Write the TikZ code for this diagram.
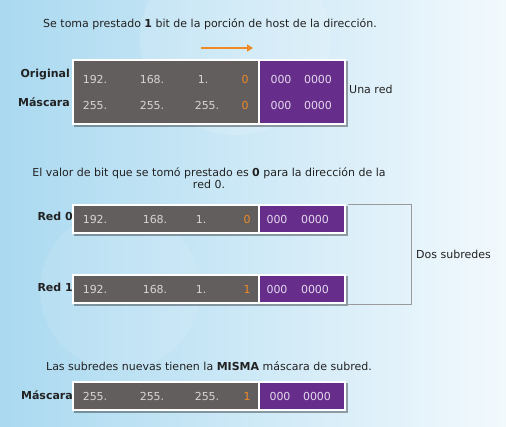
\documentclass[tikz,border=0pt]{standalone}
\usepackage{fontspec}
\setmainfont{DejaVu Sans}
\usetikzlibrary{shadows,arrows.meta}
\definecolor{boxgray}{HTML}{625E5E}
\definecolor{boxpurple}{HTML}{662D8A}
\definecolor{numgray}{HTML}{D6D4D4}
\definecolor{numpurple}{HTML}{E4DAEE}
\definecolor{bitorange}{HTML}{F08A24}
\definecolor{txt}{HTML}{222222}
\definecolor{bgleft}{HTML}{AAD9F0}
\definecolor{bgmid}{HTML}{D6EEF9}
\definecolor{bgright}{HTML}{F2F9FD}
\definecolor{bracketgray}{HTML}{9A9A9A}
\begin{document}
\begin{tikzpicture}[x=1pt,y=-1pt,
  outerbox/.style={fill=white, draw=none, inner sep=0pt, anchor=north west,
    drop shadow={shadow xshift=1.5pt, shadow yshift=-2pt, opacity=0.35, fill=black}},
  graybox/.style={fill=boxgray, draw=none, inner sep=0pt, anchor=north west},
  purplebox/.style={fill=boxpurple, draw=none, inner sep=0pt, anchor=north west},
  numg/.style={text=numgray, font=\fontsize{11}{13}\selectfont, inner sep=0pt},
  nump/.style={text=numpurple, font=\fontsize{11}{13}\selectfont, inner sep=0pt},
  bit/.style={text=bitorange, font=\fontsize{11}{13}\selectfont, inner sep=0pt},
  lbl/.style={text=txt, font=\fontsize{11}{13}\selectfont\bfseries, inner sep=0pt, anchor=east},
  desc/.style={text=txt, font=\fontsize{11}{12}\selectfont, inner sep=0pt, align=center},
  side/.style={text=txt, font=\fontsize{11}{13}\selectfont, inner sep=0pt, anchor=west},
]
\useasboundingbox (0,0) rectangle (506,427);
\shade[left color=bgleft, middle color=bgmid, right color=bgright] (0,0) rectangle (506,427);
\fill[white, opacity=0.14] (235,40) circle (95);
\fill[white, opacity=0.10] (120,290) circle (80);

% ---- section 1
\node[desc] (t1) at (210,24) {Se toma prestado \textbf{1} bit de la porción de host de la dirección.};
\coordinate (a1) at (201,48);
\coordinate (a2) at (253,48);
\draw[bitorange, line width=2pt, -{Triangle[length=6pt,width=7pt]}] (a1) -- (a2);

\node[outerbox, minimum width=274pt, minimum height=66pt] (o1) at (72,59) {};
\node[graybox, minimum width=184pt, minimum height=62pt] (g1) at (74,61) {};
\node[purplebox, minimum width=84pt, minimum height=62pt] (p1) at (260,61) {};
\node[numg] (n11) at (95,79) {192.};
\node[numg] (n12) at (152,79) {168.};
\node[numg] (n13) at (203,79) {1.};
\node[bit]  (n14) at (245,79) {0};
\node[nump] (n15) at (281,79) {000};
\node[nump] (n16) at (318,79) {0000};
\node[numg] (m11) at (95,105) {255.};
\node[numg] (m12) at (152,105) {255.};
\node[numg] (m13) at (207,105) {255.};
\node[bit]  (m14) at (245,105) {0};
\node[nump] (m15) at (281,105) {000};
\node[nump] (m16) at (318,105) {0000};
\node[lbl] (l11) at (70,75) {Original};
\node[lbl] (l12) at (70,102) {Máscara};
\node[side] (u1) at (349,89) {Una red};

% ---- section 2
\node[desc] (t2) at (209,178) {El valor de bit que se tomó prestado es \textbf{0} para la dirección de la\\red 0.};

\node[outerbox, minimum width=274pt, minimum height=30pt] (o2) at (72,204) {};
\node[graybox, minimum width=184pt, minimum height=26pt] (g2) at (74,206) {};
\node[purplebox, minimum width=84pt, minimum height=26pt] (p2) at (260,206) {};
\node[numg] (n21) at (95,219) {192.};
\node[numg] (n22) at (155,219) {168.};
\node[numg] (n23) at (201,219) {1.};
\node[bit]  (n24) at (247,219) {0};
\node[nump] (n25) at (277,219) {000};
\node[nump] (n26) at (315,219) {0000};
\node[lbl] (l21) at (73,216) {Red 0};

\node[outerbox, minimum width=274pt, minimum height=30pt] (o3) at (72,274) {};
\node[graybox, minimum width=184pt, minimum height=26pt] (g3) at (74,276) {};
\node[purplebox, minimum width=84pt, minimum height=26pt] (p3) at (260,276) {};
\node[numg] (n31) at (95,289) {192.};
\node[numg] (n32) at (155,289) {168.};
\node[numg] (n33) at (201,289) {1.};
\node[bit]  (n34) at (247,289) {1};
\node[nump] (n35) at (277,289) {000};
\node[nump] (n36) at (315,289) {0000};
\node[lbl] (l31) at (73,287) {Red 1};

\coordinate (b1) at ([xshift=2pt]o2.north east);
\coordinate (b2) at ([xshift=2pt]o3.south east);
\draw[bracketgray, line width=0.9pt] (b1) -- ++(63,0) |- (b2);
\node[side] (u2) at (416,254) {Dos subredes};

% ---- section 3
\node[desc] (t3) at (209,366) {Las subredes nuevas tienen la \textbf{MISMA} máscara de subred.};
\node[outerbox, minimum width=274pt, minimum height=30pt] (o4) at (72,381) {};
\node[graybox, minimum width=184pt, minimum height=26pt] (g4) at (74,383) {};
\node[purplebox, minimum width=84pt, minimum height=26pt] (p4) at (260,383) {};
\node[numg] (n41) at (95,396) {255.};
\node[numg] (n42) at (152,396) {255.};
\node[numg] (n43) at (207,396) {255.};
\node[bit]  (n44) at (247,396) {1};
\node[nump] (n45) at (280,396) {000};
\node[nump] (n46) at (317,396) {0000};
\node[lbl] (l41) at (73,395) {Máscara};
\end{tikzpicture}
\end{document}
